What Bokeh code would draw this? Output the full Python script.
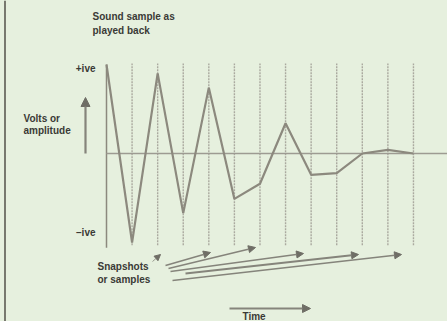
from bokeh.plotting import figure
from bokeh.models import Arrow, NormalHead, Range1d
from bokeh.core.properties import value
from bokeh.embed import file_html
from bokeh.resources import INLINE

# ---- data ----
samples = [0, 1, 2, 3, 4, 5, 6, 7, 8, 9, 10, 11, 12]
amplitude = [1.0, -1.0, 0.90, -0.67, 0.74, -0.51, -0.34, 0.34, -0.24, -0.22, 0.0, 0.04, 0.0]
title_lines = ["Sound sample as", "played back"]
axis_lines = ["Volts or", "amplitude"]
pos_label = "+ive"
neg_label = "\u2013ive"
snap_lines = ["Snapshots", "or samples"]
time_label = "Time"

# ---- layout ----
W, H = 447, 321
MARGIN = 0
PX0, DX = 106.0, 25.58       # screen x of sample 0, spacing per sample
AXY, AMP = 153.0, 89.0       # screen y of zero line, pixels per unit amplitude

xr0 = -(PX0 - MARGIN) / DX
xr1 = xr0 + W / DX
yr1 = (AXY - MARGIN) / AMP
yr0 = yr1 - H / AMP


def X(sx):
    return xr0 + (sx - MARGIN) / W * (xr1 - xr0)


def Y(sy):
    return yr1 - (sy - MARGIN) / H * (yr1 - yr0)


BG = "#e6f0de"
INK = "#3a3a36"
WAVE = "#8c897e"
DOT = "#aaa99f"
ARW = "#85847b"

p = figure(width=W, height=H, output_backend="svg", toolbar_location=None,
           x_range=Range1d(xr0, xr1), y_range=Range1d(yr0, yr1),
           min_border=0, background_fill_color=BG, border_fill_color=BG)
p.axis.visible = False
p.grid.visible = False
p.outline_line_color = None

# page border on the left
p.segment(x0=[X(4.5)], y0=[Y(0)], x1=[X(4.5)], y1=[Y(321)],
          line_color="#6b6b62", line_width=1.8)

# dotted sample lines
top, bot = 1.01, -1.03
p.segment(x0=samples[1:], y0=[bot] * 12, x1=samples[1:], y1=[top] * 12,
          line_color=DOT, line_width=1.4, line_dash="2 1")
# solid left line at sample 0
p.segment(x0=[samples[0]], y0=[-1.06], x1=[samples[0]], y1=[1.0],
          line_color=WAVE, line_width=1.5)
# zero line
p.segment(x0=[samples[0]], y0=[0], x1=[X(447)], y1=[0],
          line_color="#9d9b92", line_width=1.6)
# waveform
p.line(samples, amplitude, line_color=WAVE, line_width=2.2)

font = value("Liberation Sans")


def label(sx, sy, txt, align="left", size="10px"):
    p.text(x=[X(sx)], y=[Y(sy)], text=[txt], text_font=font,
           text_font_style="bold", text_font_size=size, text_color=INK,
           text_align=align, text_baseline="middle")


label(92, 16, title_lines[0])
label(92, 29.5, title_lines[1])
label(23, 118, axis_lines[0])
label(23, 130, axis_lines[1])
label(95, 68, pos_label, align="right")
label(95, 232, neg_label, align="right")
label(97, 266, snap_lines[0])
label(97, 279, snap_lines[1])
label(242, 316, time_label)


def arrow(sx0, sy0, sx1, sy1, w=1.5, size=7):
    p.add_layout(Arrow(end=NormalHead(size=size, fill_color="#6f6e66", line_color="#6f6e66"),
                       x_start=X(sx0), y_start=Y(sy0), x_end=X(sx1), y_end=Y(sy1),
                       line_color=ARW, line_width=w))


arrow(85, 153, 85, 97, w=2.2, size=9)
arrow(152, 261, 160, 254, w=0.8, size=6)
arrow(165, 265, 210, 252)
arrow(168, 268, 255, 247)
arrow(170, 271, 303, 253)
arrow(185, 273, 358, 254, w=1.8)
arrow(172, 280, 401, 254)
arrow(229, 308, 310, 308, w=1.8, size=8)

html = file_html(p, INLINE)
html = html.replace("<head>", "<head><style>html,body{background-color:%s;}</style>" % BG, 1)
open("out.html", "w").write(html)
